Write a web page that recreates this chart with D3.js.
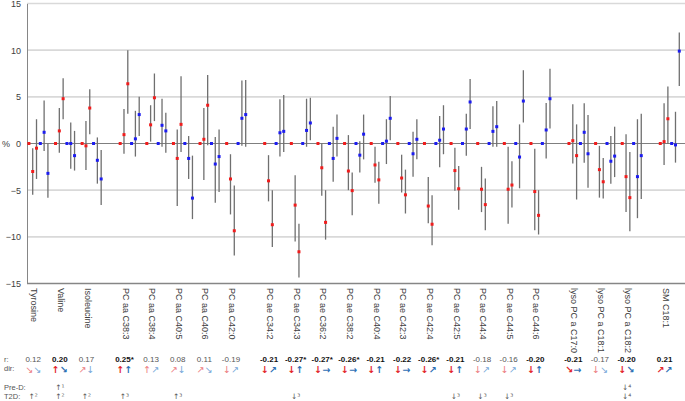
<!DOCTYPE html>
<html>
<head>
<meta charset="utf-8">
<script src="https://cdn.jsdelivr.net/npm/d3@7"></script>
<style>
  body { margin: 0; background: #fff; }
  text { font-family: "Liberation Sans Narrow", "Liberation Sans", Arial, sans-serif; }
</style>
</head>
<body>
<svg width="685" height="401"></svg>
<script>
// categories and their class (gap between classes)
var categories = ["Tyrosine", "Valine", "Isoleucine",
  "PC aa C38:3", "PC aa C38:4", "PC aa C40:5", "PC aa C40:6", "PC aa C42:0",
  "PC ae C34:2", "PC ae C34:3", "PC ae C36:2", "PC ae C38:2", "PC ae C40:4", "PC ae C42:3",
  "PC ae C42:4", "PC ae C42:5", "PC ae C44:4", "PC ae C44:5", "PC ae C44:6",
  "lyso PC a C17:0", "lyso PC a C18:1", "lyso PC a C18:2", "SM C18:1"];
var classes = ["AA", "AA", "AA", "PCaa", "PCaa", "PCaa", "PCaa", "PCaa",
  "PCae", "PCae", "PCae", "PCae", "PCae", "PCae", "PCae", "PCae", "PCae", "PCae", "PCae",
  "lyso", "lyso", "lyso", "SM"];

// red series (first point of each colour is the reference = 0)
var redA   = [-3.0, 1.35, -0.25, 0.95, 2.0, -1.6, 0.45, -3.8, -4.0, -6.6, -2.6, -2.95, -2.3, -3.7, -6.7, -2.9, -4.9, -4.9, -5.15, 0.3, -2.8, -3.55, 0.2];
var redALo = [-5.5, -1.0, -2.85, -1.1, 0.2, -6.7, -3.9, -7.6, -6.2, -10.5, -5.6, -5.0, -4.2, -5.25, -8.55, -5.05, -7.35, -8.6, -9.3, -2.15, -5.8, -7.35, -2.3];
var redAHi = [-0.5, 3.8, 2.4, 3.7, 4.1, 1.5, 3.8, -1.15, -1.25, -3.4, 0, 0.9, -0.35, -1.2, -3.6, -0.45, -2.5, -0.35, -0.55, 4.2, -0.25, 1.0, 4.3];
var redB   = [-0.5, 4.8, 3.8, 6.4, 4.9, 2.05, 4.1, -9.35, -8.7, -11.6, -8.45, -5.05, -3.9, -5.5, -8.65, -4.85, -6.55, -4.45, -7.7, -1.3, -4.1, -5.8, 2.65];
var redBLo = [-3.8, 2.6, 1.0, 3.2, 2.4, -0.9, -0.2, -12.0, -11.1, -14.35, -10.3, -7.7, -6.45, -7.5, -10.9, -7.1, -9.3, -6.85, -9.75, -6.0, -5.9, -9.4, -0.05];
var redBHi = [2.6, 7.0, 5.8, 10.0, 7.5, 7.2, 7.35, -4.5, -5.0, -8.6, -5.0, -3.1, -1.95, -2.8, -5.55, -2.4, -3.75, -1.9, -5.0, 2.05, -1.55, -0.9, 6.1];

// blue series
var blueA   = [1.2, 0, -1.8, 0.5, 1.95, -1.6, -2.2, 2.7, 1.15, 1.4, -1.6, -1.25, 0.25, -1.1, 0.35, 1.55, 1.3, -1.45, 1.45, 1.2, -1.9, -3.55, -0.15];
var blueALo = [-0.8, -2.7, -4.3, -1.4, -0.35, -3.8, -6.35, -0.25, -1.4, -0.35, -4.1, -3.1, -2.2, -3.55, -2.55, -1.3, -0.35, -4.8, -1.6, -2.05, -4.3, -8.0, -2.05];
var blueAHi = [4.6, 2.25, 0.65, 3.5, 4.8, 0.8, 0.7, 6.75, 4.75, 4.8, 1.8, 0.25, 2.6, 1.25, 2.95, 3.2, 4.0, 2.05, 4.35, 4.3, 0.8, 2.6, 3.4];
var blueB   = [-3.2, -1.3, -3.8, 3.1, 1.35, -5.85, -1.4, 3.1, 1.3, 2.2, 0.55, 1.0, 2.7, 0.45, 1.55, 4.45, 1.8, 4.55, 4.8, -1.1, -1.35, -1.3, 9.9];
var blueBLo = [-5.8, -2.9, -6.6, 0.8, -1.0, -8.1, -5.2, -0.35, -0.9, 0.35, -1.4, -1.7, 0.35, -1.7, -1.15, 1.55, -0.35, 2.25, 1.6, -4.75, -3.6, -5.95, 6.15];
var blueBHi = [0, 1.35, -0.7, 5.0, 3.3, -1.3, 1.5, 6.8, 5.2, 4.9, 3.1, 3.1, 5.1, 2.6, 4.1, 6.9, 4.55, 7.85, 8.0, 3.05, 1.8, 3.2, 11.9];

var yTicks = [15, 10, 5, 0, -5, -10, -15];

// table under the chart
var rText = ["0.12", "0.20", "0.17", "0.25*", "0.13", "0.08", "0.11", "-0.19", "-0.21", "-0.27*", "-0.27*", "-0.26*",
  "-0.21", "-0.22", "-0.26*", "-0.21", "-0.18", "-0.16", "-0.20", "-0.21", "-0.17", "-0.20", "0.21"];
var rBold = [0, 1, 0, 1, 0, 0, 0, 0, 1, 1, 1, 1, 1, 1, 1, 1, 0, 0, 1, 1, 0, 1, 1];
var dirRed  = ["↘", "↑", "↗", "↑", "↑", "↗", "↗", "↓", "↓", "↓", "↓", "↓", "↓", "↓", "↓", "↓", "↓", "↓", "↓", "↘", "↓", "↓", "↗"];
var dirBlue = ["↘", "↘", "↓", "↑", "↗", "↓", "↘", "↗", "↗", "↑", "→", "→", "↑", "→", "↗", "↑", "↗", "↗", "↑", "→", "↘", "↘", "↗"];
var preD = ["", "↑¹", "", "", "", "", "", "", "", "", "", "", "", "", "", "", "", "", "", "", "", "↓⁴", ""];
var t2d  = ["↑²", "↑²", "↑²", "↑³", "", "↑³", "", "", "", "↓³", "", "", "", "", "", "↓³", "↓³", "↓³", "", "", "", "↓⁴", ""];

var svg = d3.select("svg");

// slot index of each category: 6 points + 1 blank, 3 extra blanks between classes
var starts = [];
var s = 0;
categories.forEach(function(c, i) {
  if (i > 0) s += 7 + (classes[i] != classes[i - 1] ? 3 : 0);
  starts.push(s);
});
var nSlots = s + 7;

var x = d3.scaleLinear().domain([0, nSlots]).range([27, 685]);
var y = d3.scaleLinear().domain([-15, 15]).range([283.5, 3.5]);
function px(slot) { return x(slot + 0.5); }

// gridlines
svg.append("g")
  .selectAll("line")
  .data(yTicks.filter(function(d) { return d != 0 && d != -15; }))
  .enter()
  .append("line")
    .attr("x1", 27).attr("x2", 685)
    .attr("y1", function(d) { return y(d); })
    .attr("y2", function(d) { return y(d); })
    .style("stroke", "#d9d9d9")
    .style("stroke-width", 1.6);

// y axis labels
var yAxis = d3.axisLeft(y).tickValues(yTicks).tickSize(0).tickPadding(6);
svg.append("g")
  .attr("transform", "translate(27,0)")
  .call(yAxis)
  .call(function(g) {
    g.select(".domain").attr("stroke", "#868686");
    g.selectAll("text").attr("font-size", 9).attr("fill", "#404040")
      .attr("font-family", "Liberation Sans, Arial, sans-serif");
  });

svg.append("text")
  .attr("x", 2).attr("y", y(0) + 3)
  .attr("font-size", 9).attr("fill", "#404040")
  .text("%");

// zero line and bottom axis
svg.append("line")
  .attr("x1", 27).attr("x2", 685).attr("y1", y(0)).attr("y2", y(0))
  .style("stroke", "#7f7f7f").style("stroke-width", 1);
svg.append("line")
  .attr("x1", 27).attr("x2", 685).attr("y1", y(-15)).attr("y2", y(-15))
  .style("stroke", "#868686").style("stroke-width", 1.3);

// build the points
var points = [];
categories.forEach(function(c, i) {
  var b = starts[i];
  points.push({ slot: b,     v: 0,        col: "red" });
  points.push({ slot: b + 1, v: redA[i],  lo: redALo[i],  hi: redAHi[i],  col: "red" });
  points.push({ slot: b + 2, v: redB[i],  lo: redBLo[i],  hi: redBHi[i],  col: "red" });
  points.push({ slot: b + 3, v: 0,        col: "blue" });
  points.push({ slot: b + 4, v: blueA[i], lo: blueALo[i], hi: blueAHi[i], col: "blue" });
  points.push({ slot: b + 5, v: blueB[i], lo: blueBLo[i], hi: blueBHi[i], col: "blue" });
});

// error bars
svg.append("g")
  .selectAll("line")
  .data(points.filter(function(d) { return d.lo != null; }))
  .enter()
  .append("line")
    .attr("x1", function(d) { return px(d.slot); })
    .attr("x2", function(d) { return px(d.slot); })
    .attr("y1", function(d) { return y(d.lo); })
    .attr("y2", function(d) { return y(d.hi); })
    .style("stroke", "#6f6f6f")
    .style("stroke-width", 1.3);

// markers
svg.append("g")
  .selectAll("rect")
  .data(points)
  .enter()
  .append("rect")
    .attr("x", function(d) { return px(d.slot) - 1.5; })
    .attr("y", function(d) { return y(d.v) - 1.5; })
    .attr("width", 3)
    .attr("height", 3)
    .style("fill", function(d) { return d.col == "red" ? "#f01c1c" : "#1c1cf0"; });

// category labels, rotated
svg.append("g")
  .selectAll("text")
  .data(categories)
  .enter()
  .append("text")
    .attr("transform", function(d, i) { return "translate(" + (px(starts[i] + 1) + 1) + ",288) rotate(90)"; })
    .attr("dominant-baseline", "middle")
    .attr("font-size", 9)
    .attr("fill", "#404040")
    .text(function(d) { return d; });

// row labels
var rows = [["r:", 362], ["dir:", 371], ["Pre-D:", 390], ["T2D:", 399]];
svg.append("g")
  .selectAll("text")
  .data(rows)
  .enter()
  .append("text")
    .attr("x", 4)
    .attr("y", function(d) { return d[1]; })
    .attr("font-size", 7.5)
    .attr("fill", "#555")
    .text(function(d) { return d[0]; });

var cx = function(i) { return px(starts[i] + 1) + 0.5; };

// r values
svg.append("g")
  .selectAll("text")
  .data(rText)
  .enter()
  .append("text")
    .attr("x", function(d, i) { return cx(i); })
    .attr("y", 362)
    .attr("text-anchor", "middle")
    .attr("font-size", 8)
    .attr("font-weight", function(d, i) { return rBold[i] ? "bold" : "normal"; })
    .attr("fill", function(d, i) { return rBold[i] ? "#111" : "#555"; })
    .text(function(d) { return d; });

// direction arrows
var arrows = svg.append("g");
arrows.selectAll(".ar")
  .data(dirRed)
  .enter()
  .append("text")
    .attr("class", "ar")
    .attr("x", function(d, i) { return cx(i) - 4; })
    .attr("y", 372.5)
    .attr("text-anchor", "middle")
    .attr("font-size", 9.5)
    .attr("font-weight", function(d, i) { return rBold[i] ? "bold" : "normal"; })
    .attr("fill", function(d, i) { return rBold[i] ? "#e3262b" : "#ec7a7e"; })
    .style("font-family", "DejaVu Sans, sans-serif")
    .text(function(d) { return d; });
arrows.selectAll(".ab")
  .data(dirBlue)
  .enter()
  .append("text")
    .attr("class", "ab")
    .attr("x", function(d, i) { return cx(i) + 4; })
    .attr("y", 372.5)
    .attr("text-anchor", "middle")
    .attr("font-size", 9.5)
    .attr("font-weight", function(d, i) { return rBold[i] ? "bold" : "normal"; })
    .attr("fill", function(d, i) { return rBold[i] ? "#2e6fb5" : "#74a5d8"; })
    .style("font-family", "DejaVu Sans, sans-serif")
    .text(function(d) { return d; });

// Pre-D and T2D marks
[[preD, 390], [t2d, 399]].forEach(function(row) {
  svg.append("g")
    .selectAll("text")
    .data(row[0])
    .enter()
    .append("text")
      .attr("x", function(d, i) { return cx(i); })
      .attr("y", row[1])
      .attr("text-anchor", "middle")
      .attr("font-size", 7.5)
      .attr("fill", "#555")
      .style("font-family", "DejaVu Sans, sans-serif")
      .text(function(d) { return d; });
});
</script>
</body>
</html>
